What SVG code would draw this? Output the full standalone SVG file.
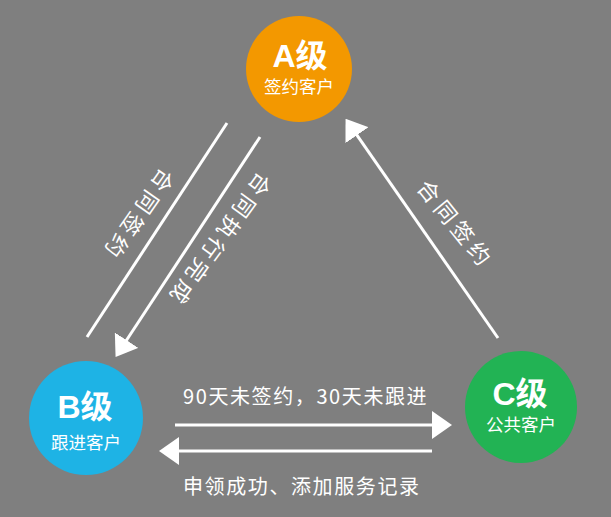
<svg xmlns="http://www.w3.org/2000/svg" width="611" height="517" viewBox="0 0 611 517">
<defs>
<style>
.bg{fill:#7f7f7f}
.t{font-family:"Noto Sans CJK SC","Liberation Sans",sans-serif;fill:#fff}
.big{font-family:"Liberation Sans","Noto Sans CJK SC",sans-serif;font-weight:bold;font-size:32px;fill:#fff;text-anchor:middle}
.sub{font-size:17.5px;text-anchor:middle}
.lbl{font-size:20px;letter-spacing:1.6px}
.rot{font-size:22px;letter-spacing:4.5px;text-anchor:middle;dominant-baseline:central}
.ln{stroke:#fff;stroke-width:3;fill:none}
</style>
<marker id="ah" viewBox="0 0 20 28" markerWidth="20" markerHeight="28" markerUnits="userSpaceOnUse" refX="1" refY="14" orient="auto">
<path d="M0,0 L20,14 L0,28 Z" fill="#fff"/>
</marker>
</defs>
<rect class="bg" x="0" y="0" width="611" height="517"/>
<g id="connectors">
<line class="ln" x1="227" y1="123" x2="87" y2="337"/>
<line class="ln" x1="260" y1="137" x2="126" y2="341" marker-end="url(#ah)"/>
<line class="ln" x1="498" y1="338" x2="356.4" y2="134.4" marker-end="url(#ah)"/>
<line class="ln" x1="175" y1="425" x2="433" y2="425" marker-end="url(#ah)"/>
<line class="ln" x1="432" y1="451" x2="178" y2="451" marker-end="url(#ah)"/>
<text class="t rot" transform="translate(140,216) rotate(125)">合同签约</text>
<text class="t rot" transform="translate(221,241) rotate(126)">合同执行完成</text>
<text class="t rot" transform="translate(457,223) rotate(51)">合同签约</text>
<text class="t lbl" x="183" y="404">90天未签约，30天未跟进</text>
<text class="t lbl" x="183" y="494">申领成功、添加服务记录</text>
</g>
<g id="nodeA">
<circle cx="299" cy="69" r="53" fill="#f39800"/>
<text class="big" x="300" y="67">A级</text>
<text class="t sub" x="299" y="93">签约客户</text>
</g>
<g id="nodeB">
<circle cx="86" cy="418" r="57" fill="#1eb3e5"/>
<text class="big" x="85" y="418">B级</text>
<text class="t sub" x="86" y="449">跟进客户</text>
</g>
<g id="nodeC">
<circle cx="521" cy="407" r="56" fill="#22b354"/>
<text class="big" x="520" y="405">C级</text>
<text class="t sub" x="521" y="431">公共客户</text>
</g>
</svg>
